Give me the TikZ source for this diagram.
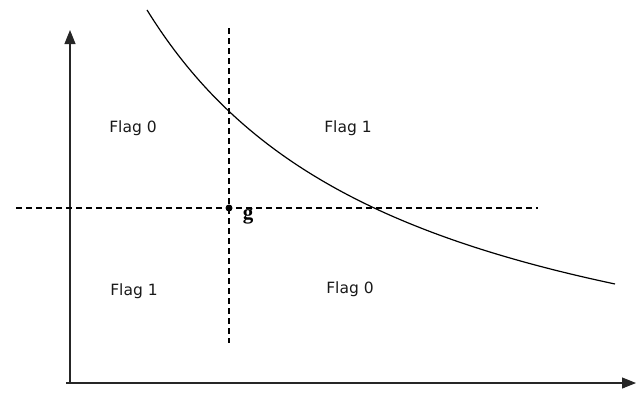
\documentclass[tikz,border=0pt]{standalone}
\usepackage{fontspec}
\setmainfont{DejaVu Sans}
\newfontfamily\gfont{Liberation Serif}
\usetikzlibrary{arrows.meta}
\begin{document}
\begin{tikzpicture}[x=1pt,y=-1pt,
  axis/.style={line width=1.1pt,draw=black!85,-{Triangle[length=14pt,width=11pt]}},
  dashline/.style={line width=1.1pt,dash pattern=on 6pt off 4pt},
  lbl/.style={font=\fontsize{15.5}{17}\selectfont,text=black!90,inner sep=0pt}]
\useasboundingbox (0,0) rectangle (637,392);
\coordinate (o) at (70,383);
\coordinate (ytop) at (70,30);
\coordinate (xend) at (636,383);
\draw[axis] (66,383) -- (xend);
\draw[axis] (o) -- (ytop);
\coordinate (hl) at (16,208);
\coordinate (hr) at (538,208);
\coordinate (vt) at (229,28);
\coordinate (vb) at (229,343);
\draw[dashline] (hl) -- (hr);
\draw[dashline] (vt) -- (vb);
\draw[line width=1.2pt] plot[domain=147:615,samples=120,smooth] (\x,{439.5-1140.87/((\x+118.6)/100)});
\node[circle,fill=black,inner sep=0pt,minimum size=7pt] (g) at (229,208) {};
\node[font=\gfont\bfseries\fontsize{21}{22}\selectfont,inner sep=0pt] (glbl) at (248,216) {g};
\node[lbl] (f1) at (133,128) {Flag 0};
\node[lbl] (f2) at (348,128) {Flag 1};
\node[lbl] (f3) at (134,291) {Flag 1};
\node[lbl] (f4) at (350,289) {Flag 0};
\end{tikzpicture}
\end{document}
